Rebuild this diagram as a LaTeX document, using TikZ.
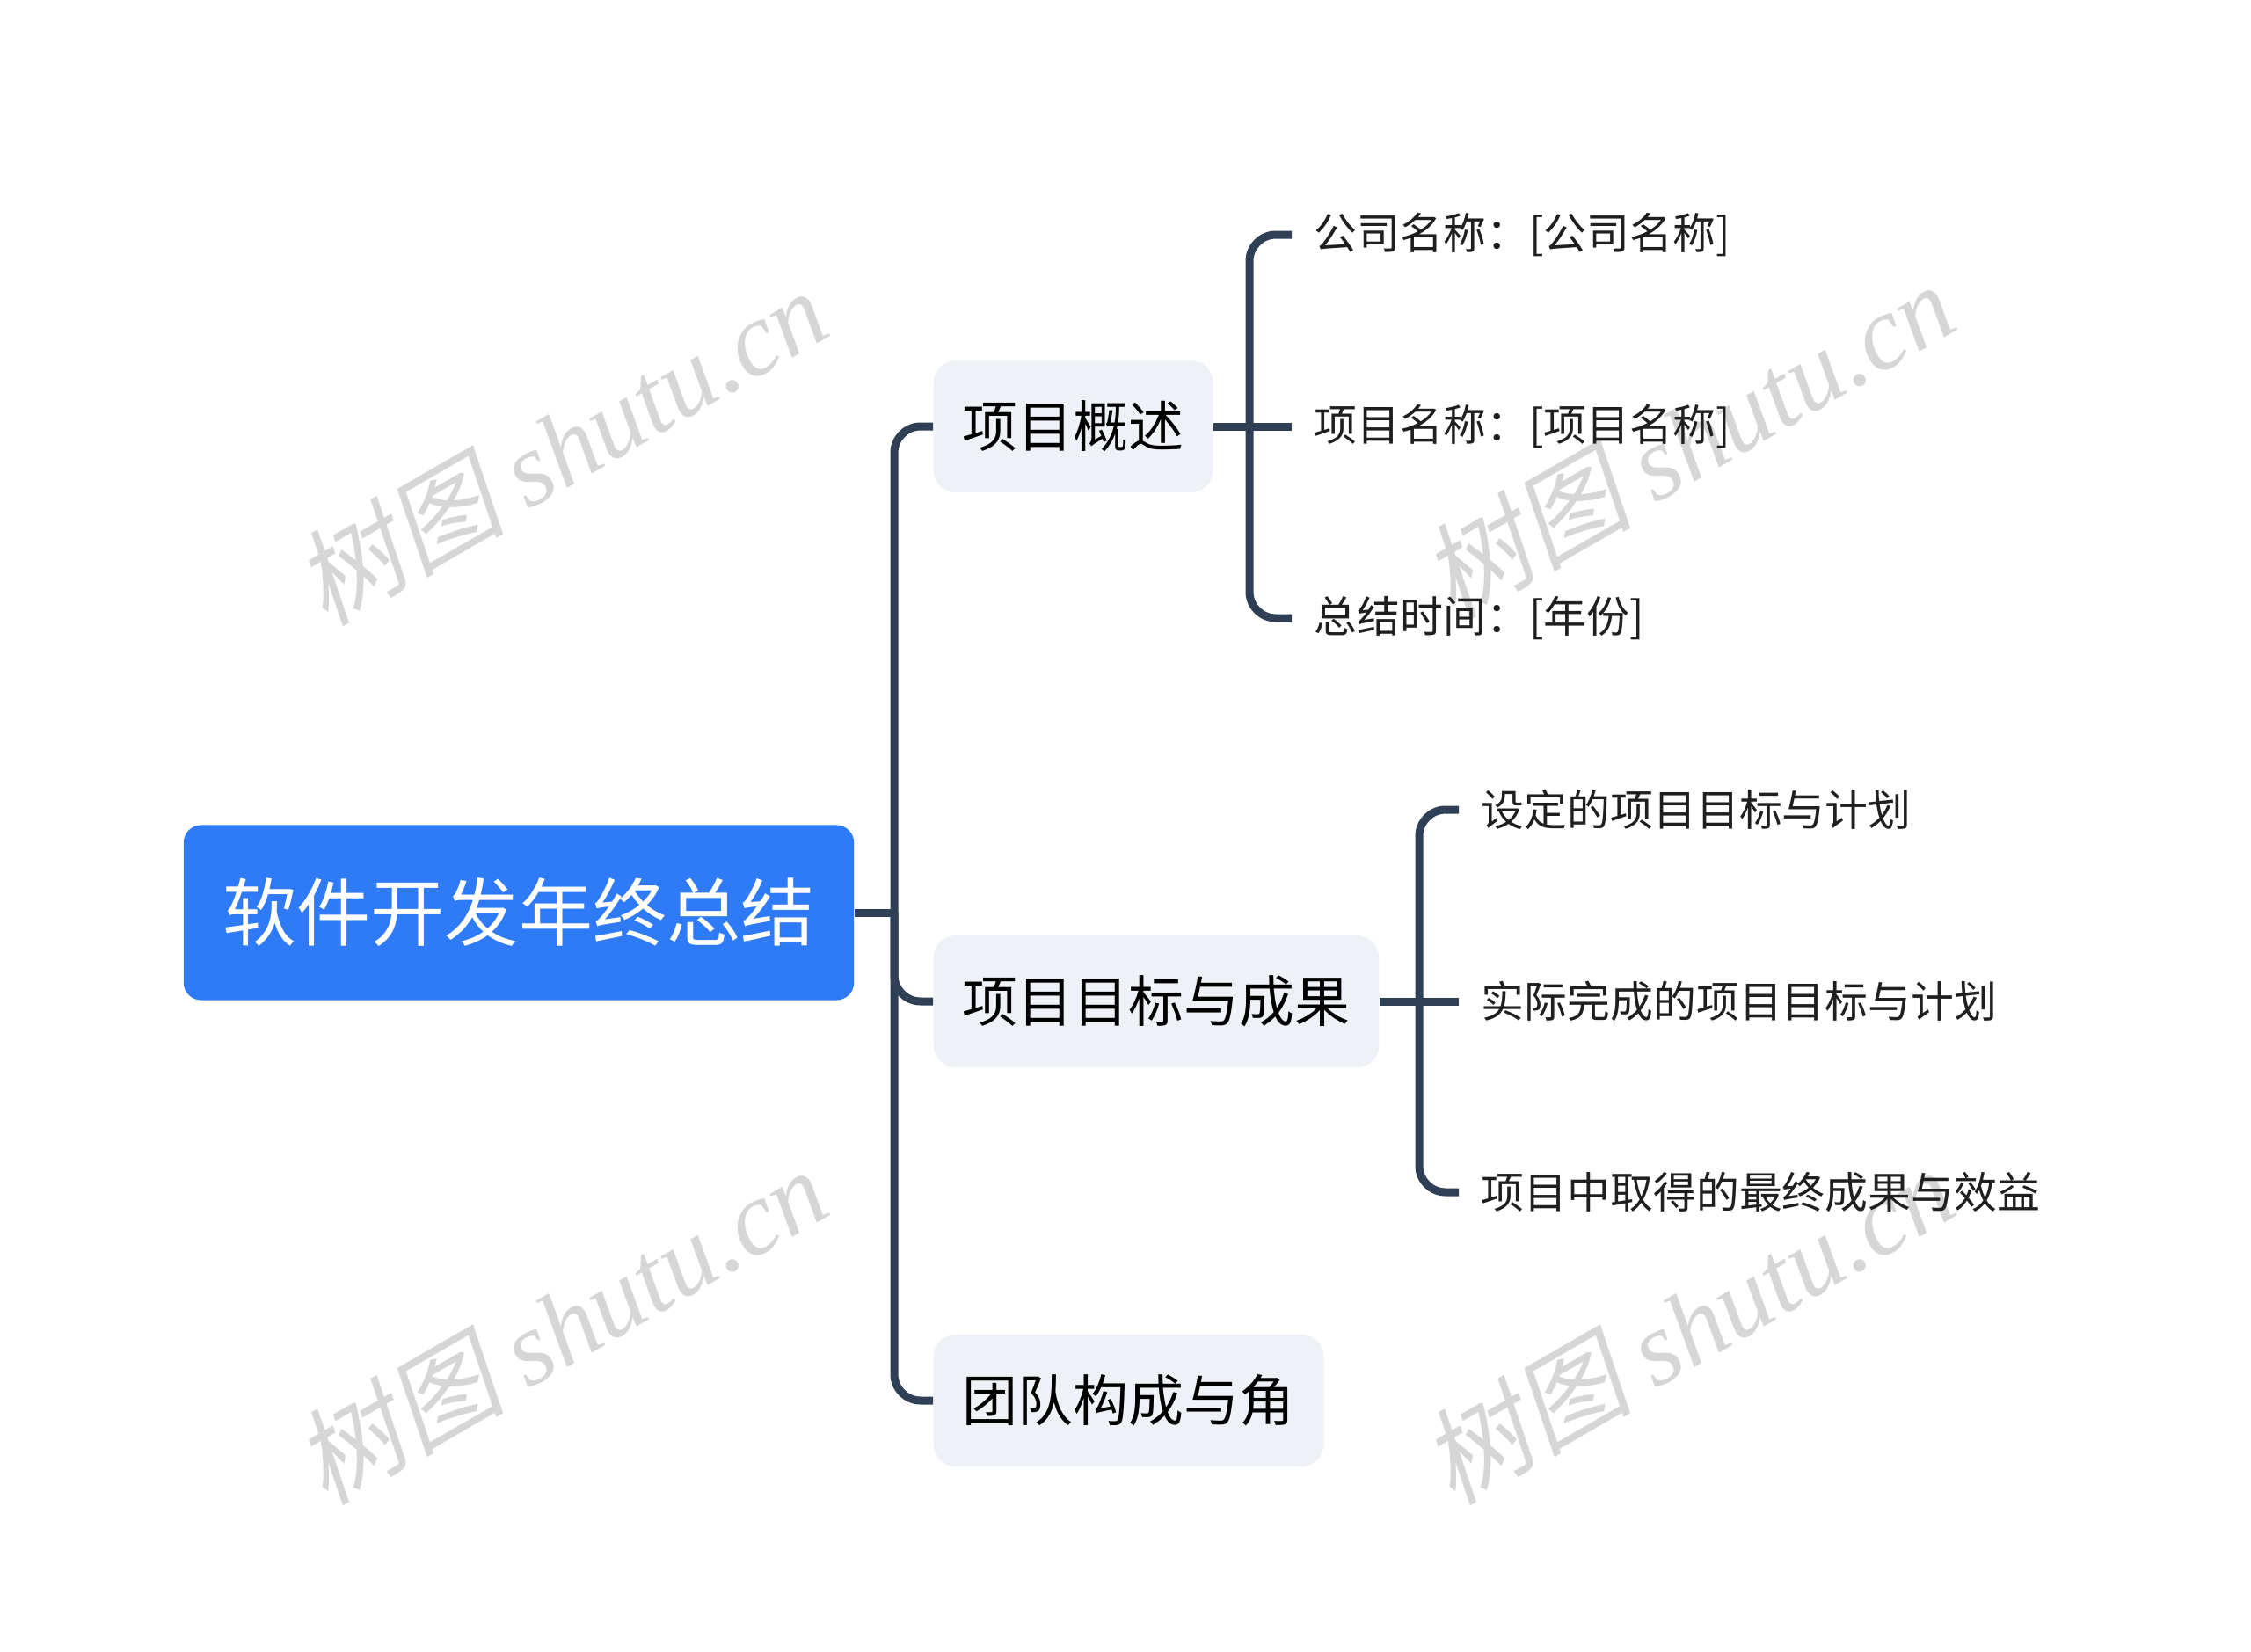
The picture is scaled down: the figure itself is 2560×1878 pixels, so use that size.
\documentclass[tikz,border=0pt]{standalone}
\usepackage{fontspec}
\setmainfont{Noto Sans CJK SC}
\newfontfamily\wmserif{Liberation Serif}
\newfontfamily\wmcjk{Noto Sans CJK SC}[FakeSlant=0.2]
\usetikzlibrary{positioning}
\definecolor{rootblue}{HTML}{2F7BF7}
\definecolor{linegray}{HTML}{2F3F56}
\definecolor{boxgray}{HTML}{EEF1F5}
\definecolor{wmgray}{HTML}{D6D6D6}

\begin{document}
\begin{tikzpicture}[
  x=0.01cm, y=-0.01cm,
  rootbox/.style={rectangle, rounded corners=0.2cm, fill=rootblue, text=white,
                  font=\fontsize{23.9pt}{28pt}\selectfont,
                  minimum width=7.62cm, minimum height=1.99cm, inner sep=0pt},
  topic/.style={rectangle, rounded corners=0.25cm, fill=boxgray, text=black,
                font=\fontsize{17.9pt}{21pt}\selectfont,
                minimum height=1.5cm, inner xsep=0.33cm, inner ysep=0pt, anchor=west},
  leaf/.style={font=\fontsize{13.9pt}{17pt}\selectfont, text=black!88,
               inner xsep=0.25cm, inner ysep=0pt, anchor=west},
  branch/.style={draw=linegray, line width=0.09cm, rounded corners=0.3cm},
  wmark/.style={text=wmgray, rotate=30, font=\fontsize{34pt}{38pt}\selectfont}
]
\useasboundingbox (0,0) rectangle (2560,1878);

% marcas de agua
\node[wmark] (wm1) at (637,507) {{\wmcjk 树图} {\wmserif\itshape shutu.cn}};
\node[wmark] (wm2) at (1919,500) {{\wmcjk 树图} {\wmserif\itshape shutu.cn}};
\node[wmark] (wm3) at (637,1507) {{\wmcjk 树图} {\wmserif\itshape shutu.cn}};
\node[wmark] (wm4) at (1919,1507) {{\wmcjk 树图} {\wmserif\itshape shutu.cn}};

\node[rootbox] (root) at (590,1038) {软件开发年终总结};

\node[topic] (gaikuang) at (1061,485) {项目概述};
\node[topic] (mubiao) at (1061,1139) {项目目标与成果};
\node[topic] (tuandui) at (1061,1593) {团队构成与角};

\node[leaf] (gongsi) at (1469,267) {公司名称：[公司名称]};
\node[leaf] (xiangmu) at (1469,485) {项目名称：[项目名称]};
\node[leaf] (shijian) at (1469,703) {总结时间：[年份]};

\node[leaf] (sheding) at (1659,921) {设定的项目目标与计划};
\node[leaf] (shiji) at (1659,1139) {实际完成的项目目标与计划};
\node[leaf] (chengguo) at (1659,1356) {项目中取得的最终成果与效益};

% troncos
\coordinate (j0) at (1017,1038);
\coordinate (j1) at (1421,485);
\coordinate (j2) at (1614,1139);

\draw[branch] (root.east) -- (j0);
\draw[branch] (j0) |- (gaikuang.west);
\draw[branch] (j0) |- (mubiao.west);
\draw[branch] (j0) |- (tuandui.west);

\draw[branch] (gaikuang.east) -- (xiangmu.west);
\draw[branch] (j1) |- (gongsi.west);
\draw[branch] (j1) |- (shijian.west);

\draw[branch] (mubiao.east) -- (shiji.west);
\draw[branch] (j2) |- (sheding.west);
\draw[branch] (j2) |- (chengguo.west);

\end{tikzpicture}
\end{document}
